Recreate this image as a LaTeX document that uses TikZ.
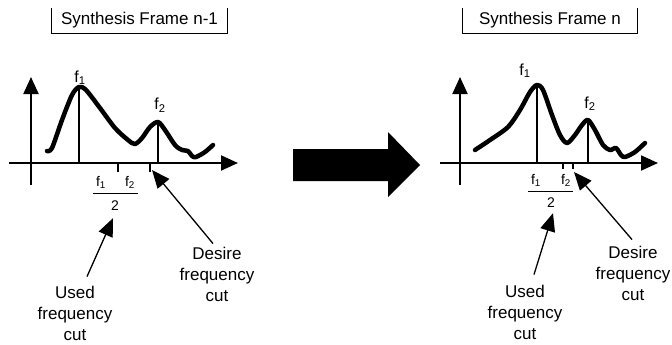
\documentclass[tikz,border=0pt]{standalone}
\usepackage{fontspec}
\setmainfont{Liberation Sans}
\usetikzlibrary{positioning,arrows.meta}

\begin{document}
\begin{tikzpicture}[x=1pt, y=-1pt, >=stealth,
    axis/.style={line width=2pt, -{Triangle[length=17pt,width=15pt]}},
    spectrum/.style={line width=4.5pt, line join=round, line cap=round},
    peakline/.style={line width=1.8pt},
    pointer/.style={line width=1.3pt, -{Triangle[length=18pt,width=15pt]}},
    bracket/.style={line width=1.3pt},
    framebox/.style={font=\fontsize{17}{20}\selectfont, inner sep=0pt, minimum height=25pt},
    note/.style={font=\fontsize{17}{21}\selectfont, align=center, inner sep=0pt},
    peak/.style={font=\fontsize{16}{18}\selectfont, inner sep=0pt, anchor=base},
    frac/.style={font=\fontsize{14}{16}\selectfont, inner sep=0pt, anchor=base}]
  \useasboundingbox (0,0) rectangle (672,345);

  % frame n-1
  \node[framebox, minimum width=175pt] (titleL) at (139.5,20.5) {Synthesis Frame n-1};
  \draw[bracket] (titleL.north west) |- (titleL.south east) -- (titleL.north east);

  \draw[axis] (31,185) -- (31,77);
  \draw[axis] (9,163) -- (238,163);
  \draw[spectrum] plot[smooth, tension=0.5] coordinates {(47,151) (52,148) (62,120) (72,95) (79,87)
    (86,90) (100,108) (115,128) (128,140) (135,144) (142,138) (150,127) (158,122) (165,130)
    (175,145) (182,150) (188,151) (192,156) (196,157) (205,152) (213,145)};
  \draw[peakline] (79,87) -- (79,163);
  \draw[peakline] (158,122) -- (158,163);
  \node[peak] (f1L) at (80,82) {f\textsubscript{1}};
  \node[peak] (f2L) at (160,110) {f\textsubscript{2}};

  \draw[peakline] (118,163) -- (118,172);
  \draw[peakline] (150,163) -- (150,172);
  \coordinate (cutL) at (152,170);
  \node[frac] (fracL1) at (101,186) {f\textsubscript{1}};
  \node[frac] (fracL2) at (130,186) {f\textsubscript{2}};
  \draw[line width=1pt] (93,193) -- (138,193);
  \node[frac] (halfL) at (115,210) {2};

  \node[note] (usedL) at (75,313) {Used\\frequency\\cut};
  \node[note] (desL) at (217,274) {Desire\\frequency\\cut};
  \draw[pointer] ([shift={(12pt,9pt)}]usedL.north) -- ([shift={(-2pt,-8pt)}]halfL.south);
  \draw[pointer] ([shift={(-4pt,3pt)}]desL.north) -- (cutL);

  % transition
  \fill (293,149) -- (388,149) -- (388,132) -- (420,165) -- (388,197) -- (388,181) -- (293,181) -- cycle;

  % frame n
  \node[framebox, minimum width=174pt] (titleR) at (550,20.5) {Synthesis Frame n};
  \draw[bracket] (titleR.north west) |- (titleR.south east) -- (titleR.north east);

  \draw[axis] (460,185) -- (460,77);
  \draw[axis] (440,163) -- (658,163);
  \draw[spectrum] plot[smooth, tension=0.5] coordinates {(475,150) (490,140) (508,127) (520,110)
    (530,92) (537,85) (543,90) (552,115) (560,135) (567,143) (575,135) (582,125) (588,120)
    (595,130) (603,145) (610,150) (616,148) (621,155) (625,157) (635,152) (645,143)};
  \draw[peakline] (537,85) -- (537,163);
  \draw[peakline] (588,120) -- (588,163);
  \node[peak] (f1R) at (525,75) {f\textsubscript{1}};
  \node[peak] (f2R) at (590,108) {f\textsubscript{2}};

  \draw[peakline] (563,163) -- (563,169);
  \draw[peakline] (573,163) -- (573,169);
  \coordinate (cutR) at (574,172);
  \node[frac] (fracR1) at (536,184) {f\textsubscript{1}};
  \node[frac] (fracR2) at (566,184) {f\textsubscript{2}};
  \draw[line width=1pt] (528,191) -- (573,191);
  \node[frac] (halfR) at (551,207) {2};

  \node[note] (usedR) at (525,312) {Used\\frequency\\cut};
  \node[note] (desR) at (633,273) {Desire\\frequency\\cut};
  \draw[pointer] ([shift={(9pt,10pt)}]usedR.north) -- ([shift={(2pt,-6pt)}]halfR.south);
  \draw[pointer] ([shift={(-1pt,6pt)}]desR.north) -- (cutR);
\end{tikzpicture}
\end{document}
